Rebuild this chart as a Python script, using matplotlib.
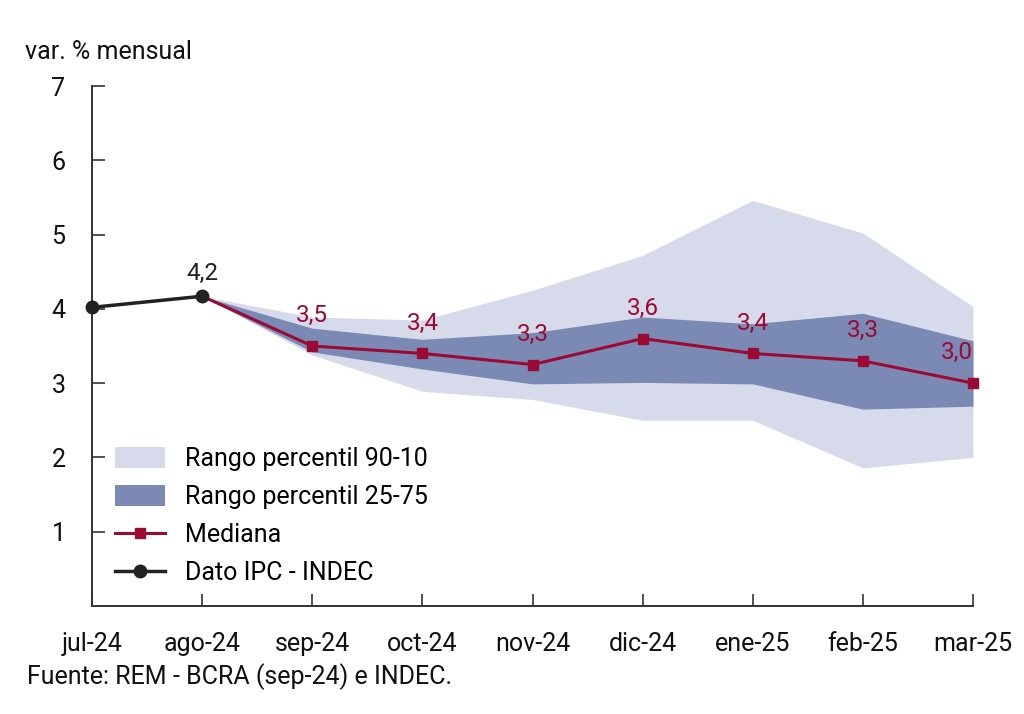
import matplotlib
matplotlib.use("Agg")
import matplotlib.pyplot as plt
from matplotlib.patches import Patch
from matplotlib.lines import Line2D

plt.rcParams['font.family'] = ['Roboto', 'DejaVu Sans']

meses = ['jul-24', 'ago-24', 'sep-24', 'oct-24', 'nov-24', 'dic-24', 'ene-25', 'feb-25', 'mar-25']

# dato observado INDEC (jul-24, ago-24)
ipc = [4.02, 4.17]

# REM: desde ago-24 (punto de partida) hasta mar-25
mediana = [4.17, 3.5, 3.4, 3.25, 3.6, 3.4, 3.3, 3.0]
p90 = [4.17, 3.89, 3.85, 4.25, 4.72, 5.46, 5.02, 4.03]
p75 = [4.17, 3.74, 3.59, 3.68, 3.89, 3.80, 3.94, 3.57]
p25 = [4.17, 3.42, 3.19, 2.99, 3.01, 2.99, 2.65, 2.69]
p10 = [4.17, 3.38, 2.89, 2.78, 2.50, 2.50, 1.86, 2.00]
etiquetas = ['3,5', '3,4', '3,3', '3,6', '3,4', '3,3', '3,0']

c_claro = '#d6daea'
c_oscuro = '#7b8ab5'
c_rojo = '#9b0a33'
c_negro = '#222222'

fig = plt.figure(figsize=(10.24, 7.14), dpi=100)
ax = fig.add_axes([92/1024, 1-606/714, (973-92)/1024, (606-86)/714])

x_ipc = list(range(len(ipc)))
x_rem = list(range(1, len(meses)))

ax.fill_between(x_rem, p10, p90, color=c_claro, lw=0, zorder=1)
ax.fill_between(x_rem, p25, p75, color=c_oscuro, lw=0, zorder=2)
ax.plot(x_rem[1:], mediana[1:], color=c_rojo, lw=2.2, marker='s', markersize=7.5, zorder=4, clip_on=False)
ax.plot(x_rem[:2], mediana[:2], color=c_rojo, lw=2.2, zorder=4)
ax.plot(x_ipc, ipc, color=c_negro, lw=2.5, marker='o', markersize=9, zorder=5, clip_on=False)

for i, (xv, yv, t) in enumerate(zip(x_rem[1:], mediana[1:], etiquetas)):
    ha = 'right' if i == len(etiquetas) - 1 else 'center'
    ax.annotate(t, (xv, yv), xytext=(0, 13.5), textcoords='offset points',
                ha=ha, va='bottom', color=c_rojo, fontsize=17.5)
ax.annotate('4,2', (x_ipc[1], ipc[1]), xytext=(0, 8), textcoords='offset points',
            ha='center', va='bottom', color=c_negro, fontsize=17.5)

ax.set_xlim(0, len(meses) - 1)
ax.set_ylim(0, 7)
ax.set_xticks(range(len(meses)))
ax.set_xticklabels(meses)
ax.set_yticks(range(1, 8))
ax.tick_params(axis='both', direction='in', length=9, width=1.2, color='#333333',
               labelsize=18, labelcolor='#111111')
ax.tick_params(axis='x', pad=19)
ax.tick_params(axis='y', pad=19)

for s in ['top', 'right']:
    ax.spines[s].set_visible(False)
for s in ['left', 'bottom']:
    ax.spines[s].set_color('#333333')
    ax.spines[s].set_linewidth(1.4)

handles = [
    Patch(facecolor=c_claro, edgecolor='none', label='Rango percentil 90-10'),
    Patch(facecolor=c_oscuro, edgecolor='none', label='Rango percentil 25-75'),
    Line2D([], [], color=c_rojo, lw=2.2, marker='s', markersize=7.5, label='Mediana'),
    Line2D([], [], color=c_negro, lw=2.5, marker='o', markersize=9, label='Dato IPC - INDEC'),
]
ax.legend(handles=handles, loc='upper left', bbox_to_anchor=(0.026, 0.305),
          frameon=False, fontsize=18, borderpad=0, borderaxespad=0,
          handlelength=2.0, handleheight=0.9, handletextpad=0.8, labelspacing=0.56)

fig.text(25/1024, 1-52/714, 'var. % mensual', fontsize=18, va='center', ha='left', color='#111111')
fig.text(27/1024, 1-677/714, 'Fuente: REM - BCRA (sep-24) e INDEC.', fontsize=18,
         va='center', ha='left', color='#111111')

fig.savefig('out.png', dpi=100)
